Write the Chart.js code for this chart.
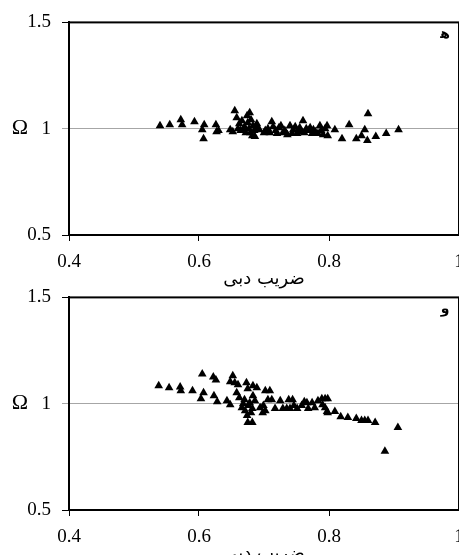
<!DOCTYPE html>
<html>
<head>
<meta charset="utf-8">
<script src="https://cdn.jsdelivr.net/npm/chart.js@4.4.1/dist/chart.umd.min.js"></script>
<style>
  html, body { margin: 0; padding: 0; background: #fff; overflow: hidden; width: 459px; height: 555px; }
  .panel { position: absolute; left: 0; width: 500px; height: 295px; }
  #p1 { top: 0; }
  #p2 { top: 275px; }
</style>
</head>
<body>
<div class="panel" id="p1"><canvas id="chartH" width="500" height="295"></canvas></div>
<div class="panel" id="p2"><canvas id="chartV" width="500" height="295"></canvas></div>
<script>
// panel "ه"
const flowCoefH = [0.540,0.555,0.572,0.574,0.593,0.605,0.608,0.607,0.626,0.627,0.630,
  0.648,0.652,0.655,0.658,0.660,0.662,0.664,0.666,0.668,0.670,0.672,0.674,0.675,0.677,0.678,0.679,0.680,0.682,0.683,0.685,0.686,0.689,0.690,0.693,
  0.700,0.702,0.706,0.709,0.712,0.714,0.718,0.720,0.723,0.726,0.729,0.732,0.736,0.740,0.743,0.745,0.748,0.751,0.753,0.755,0.758,0.760,0.762,0.765,0.768,0.771,0.774,0.776,0.779,0.783,0.786,0.788,0.791,0.794,0.797,0.798,
  0.809,0.820,0.831,0.842,0.850,0.855,0.860,0.859,0.872,0.888,0.907];
const omegaH = [1.014,1.019,1.042,1.019,1.033,0.995,1.019,0.953,1.019,0.986,0.991,
  0.995,0.986,1.084,1.051,1.000,1.023,0.991,1.037,0.991,1.009,0.981,1.061,1.028,1.000,1.075,0.981,1.042,0.967,1.014,0.991,0.963,1.023,1.005,0.995,
  0.981,0.991,1.000,0.981,1.033,1.009,0.991,0.977,1.005,1.014,0.981,0.991,0.972,1.014,0.977,0.995,1.009,0.977,0.991,1.005,0.986,1.037,0.981,1.000,0.991,1.005,0.977,0.995,0.986,0.977,1.014,0.991,0.972,1.000,1.014,0.967,
  0.995,0.953,1.019,0.953,0.967,0.995,1.070,0.944,0.963,0.977,0.995];

// panel "و"
const flowCoefV = [0.538,0.554,0.571,0.572,0.590,0.605,0.607,0.603,0.622,0.626,0.623,0.628,0.643,0.648,0.652,0.648,0.655,0.660,0.658,0.662,
  0.673,0.675,0.683,0.689,0.683,0.666,0.671,0.674,0.675,0.682,0.678,0.686,0.682,0.668,0.676,0.680,0.670,
  0.694,0.698,0.699,0.702,0.702,0.709,0.706,0.712,0.717,0.725,0.729,0.735,0.738,0.744,0.740,0.751,0.746,0.758,0.762,0.766,0.768,0.774,0.778,0.783,0.789,0.794,0.798,0.794,0.797,0.798,0.790,
  0.809,0.818,0.829,0.842,0.850,0.855,0.860,0.871,0.886,0.906];
const omegaV = [1.084,1.075,1.079,1.061,1.061,1.140,1.051,1.023,1.126,1.112,1.037,1.009,1.014,0.995,1.131,1.103,1.098,1.089,1.051,1.028,
  1.098,1.070,1.084,1.075,1.037,0.981,0.967,0.944,0.911,0.911,1.005,1.014,0.977,1.000,0.991,0.958,1.019,
  0.981,0.958,0.991,0.967,1.061,1.061,1.019,1.019,0.977,1.014,0.977,0.977,1.019,1.019,0.977,0.977,0.991,0.991,1.009,1.005,0.977,1.005,0.981,1.014,1.023,1.023,1.023,0.981,0.963,0.958,0.995,
  0.963,0.939,0.935,0.930,0.921,0.921,0.921,0.911,0.776,0.888];

const xTicks = [0.4, 0.6, 0.8, 1];
const yTicks = [0.5, 1, 1.5];
const xTitle = 'ضریب دبی';
const yTitle = 'Ω';

const serif = '"Liberation Serif", "Times New Roman", serif';

// frame, Ω and panel letter
const decor = {
  id: 'decor',
  afterDraw(chart, args, opts) {
    const c = chart.ctx, a = chart.chartArea;
    c.save();
    c.strokeStyle = '#000';
    c.lineWidth = 2;
    c.strokeRect(a.left, a.top, a.right - a.left, a.bottom - a.top);
    c.fillStyle = '#000';
    c.font = '22px ' + serif;
    c.textAlign = 'center';
    c.textBaseline = 'middle';
    c.fillText(yTitle, 20, chart.scales.y.getPixelForValue(1));
    c.font = 'bold 14px "DejaVu Sans"';
    c.textBaseline = 'alphabetic';
    c.fillText(opts.letter, a.right - 14, a.top + 16);
    c.restore();
  }
};

function makeChart(id, xs, ys, letter) {
  const pts = xs.map((x, i) => ({ x: x, y: ys[i] }));
  return new Chart(document.getElementById(id), {
    type: 'scatter',
    data: {
      datasets: [{
        data: pts,
        pointStyle: 'triangle',
        pointRadius: 5,
        pointBackgroundColor: '#000',
        pointBorderWidth: 0
      }]
    },
    options: {
      responsive: false,
      animation: false,
      events: [],
      layout: { padding: { top: 21, right: 41, left: 0, bottom: 0 } },
      plugins: { legend: { display: false }, tooltip: { enabled: false }, decor: { letter: letter } },
      scales: {
        x: {
          type: 'linear',
          min: 0.4, max: 1,
          afterFit: s => { s.height = 60; },
          afterBuildTicks: s => { s.ticks = xTicks.map(v => ({ value: v })); },
          border: { color: '#000', width: 2 },
          grid: { drawOnChartArea: false, tickColor: '#000', tickLength: 6 },
          ticks: {
            color: '#000', padding: 10, maxRotation: 0,
            font: { family: serif, size: 19 },
            callback: v => (v === 1 ? '1' : v.toFixed(1))
          },
          title: {
            display: true, text: xTitle, color: '#000',
            font: { family: '"DejaVu Sans", sans-serif', size: 18 },
            padding: { top: 0, bottom: 5 }
          }
        },
        y: {
          min: 0.5, max: 1.5,
          afterFit: s => { s.width = 69; },
          afterBuildTicks: s => { s.ticks = yTicks.map(v => ({ value: v })); },
          border: { color: '#000', width: 2 },
          grid: {
            color: c => (c.tick && c.tick.value === 1 ? '#a6a6a6' : 'rgba(0,0,0,0)'),
            tickColor: c => (c.tick && c.tick.value === 1 ? '#a6a6a6' : '#000'),
            tickLength: 7,
            lineWidth: 1
          },
          ticks: {
            color: '#000', padding: 11,
            font: { family: serif, size: 19 },
            callback: v => (v === 1 ? '1' : v.toFixed(1))
          }
        }
      }
    },
    plugins: [decor]
  });
}

makeChart('chartH', flowCoefH, omegaH, '\uFEEB');
makeChart('chartV', flowCoefV, omegaV, 'و');
</script>
</body>
</html>
